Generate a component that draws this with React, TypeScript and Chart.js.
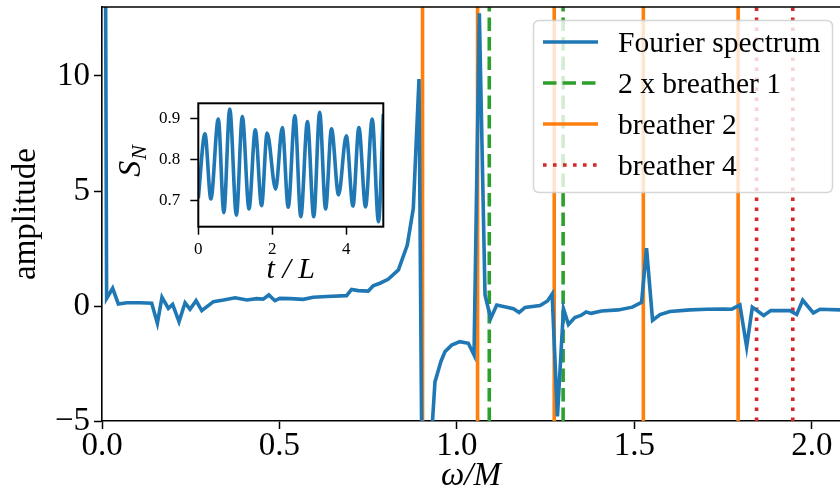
import React, { useEffect, useRef } from "react";
import { Chart, registerables } from "chart.js";
Chart.register(...registerables);

// ---- main spectrum data ----
const omega = [0.000, 0.013, 0.030, 0.046, 0.070, 0.107, 0.140, 0.156, 0.169, 0.187, 0.199, 0.217, 0.234, 0.248, 0.265, 0.281, 0.314, 0.342, 0.375, 0.408, 0.436, 0.454, 0.470, 0.487, 0.501, 0.530, 0.567, 0.595, 0.633, 0.689, 0.703, 0.722, 0.750, 0.764, 0.783, 0.806, 0.835, 0.860, 0.877, 0.893, 0.908, 0.925, 0.938, 0.955, 0.966, 0.985, 1.008, 1.032, 1.048, 1.063, 1.079, 1.095, 1.112, 1.159, 1.175, 1.192, 1.234, 1.255, 1.268, 1.283, 1.300, 1.314, 1.332, 1.349, 1.364, 1.378, 1.407, 1.454, 1.494, 1.520, 1.534, 1.551, 1.572, 1.600, 1.656, 1.703, 1.750, 1.774, 1.797, 1.816, 1.832, 1.864, 1.884, 1.938, 1.957, 1.974, 2.004, 2.023, 2.079, 2.100];
const amplitude = [60, 0.33, 0.77, 0.09, 0.14, 0.14, 0.12, -0.75, 0.38, -0.10, 0.07, -0.68, 0.14, -0.14, 0.23, -0.20, 0.19, 0.26, 0.36, 0.26, 0.32, 0.30, 0.48, 0.23, 0.33, 0.32, 0.29, 0.38, 0.41, 0.45, 0.72, 0.67, 0.65, 0.88, 0.99, 1.16, 1.57, 2.65, 4.25, 9.87, -21, -6.5, -3.3, -2.4, -1.99, -1.70, -1.55, -1.62, -2.13, 12.73, 0.48, -0.54, 0.04, -0.12, -0.28, -0.06, 0.02, 0.22, 0.52, -4.8, -0.12, -0.8, -0.5, -0.41, -0.26, -0.32, -0.22, -0.17, -0.05, 0.16, 2.51, -0.62, -0.37, -0.24, -0.17, -0.14, -0.13, -0.14, 0.04, -1.77, -0.05, -0.41, -0.2, -0.2, -0.37, 0.25, -0.30, -0.14, -0.17, -0.17];

const breather1x2 = [1.091, 1.299];
const breather2 = [0.903, 1.058, 1.274, 1.525, 1.792];
const breather4 = [1.844, 1.946];

const legendLabels = ["Fourier spectrum", "2 x breather 1", "breather 2", "breather 4"];

const xMin = 0;
const xMax = 2.079;
const yMin = -5;
const yMax = 13;
const xTicks = [0, 0.5, 1, 1.5, 2];
const yTicks = [-5, 0, 5, 10];

// ---- inset data S_N(t) ----
const insetT = [0, 0.18, 0.34, 0.54, 0.69, 0.85, 1.03, 1.19, 1.37, 1.54, 1.71, 1.86, 2.09, 2.27, 2.43, 2.61, 2.77, 2.95, 3.12, 3.28, 3.44, 3.60, 3.79, 4.00, 4.18, 4.34, 4.52, 4.70, 4.87, 5.0];
const insetS = [0.706, 0.862, 0.704, 0.898, 0.671, 0.922, 0.665, 0.904, 0.680, 0.872, 0.688, 0.864, 0.728, 0.877, 0.684, 0.906, 0.661, 0.892, 0.661, 0.914, 0.680, 0.874, 0.714, 0.857, 0.687, 0.877, 0.685, 0.898, 0.649, 0.910];
const insetXTicks = [0, 2, 4];
const insetYTicks = [0.7, 0.8, 0.9];
const insetXMin = 0;
const insetXMax = 5;
const insetYMin = 0.637;
const insetYMax = 0.936;

const FAMILY = "'Liberation Serif', 'DejaVu Serif', serif";
const BLUE = "#1f77b4";
const ORANGE = "#ff7f0e";
const GREEN = "#2ca02c";
const RED = "#d62728";
const LW = 3.6;
const GREEN_DASH = [13.5, 6];
const RED_DASH = [3.6, 6.4];

function vlines(values: number[]) {
  const out: any[] = [];
  values.forEach((v) => {
    out.push({ x: v, y: yMin });
    out.push({ x: v, y: yMax });
    out.push({ x: v, y: null });
  });
  return out;
}

function fmtY(v: number) {
  return v < 0 ? "\u2212" + Math.abs(v) : String(v);
}

function fixX(h: number) {
  return (s: any) => {
    s.height = h;
    s.paddingLeft = 0;
    s.paddingRight = 0;
    s.paddingTop = 0;
    s.paddingBottom = 0;
  };
}
function fixY(w: number) {
  return (s: any) => {
    s.width = w;
    s.paddingLeft = 0;
    s.paddingRight = 0;
    s.paddingTop = 0;
    s.paddingBottom = 0;
  };
}

export default function App() {
  const mainRef = useRef<HTMLCanvasElement>(null);
  const insetRef = useRef<HTMLCanvasElement>(null);

  useEffect(() => {
    const legendItems = [
      { label: legendLabels[0], color: BLUE, dash: [] as number[] },
      { label: legendLabels[1], color: GREEN, dash: GREEN_DASH },
      { label: legendLabels[2], color: ORANGE, dash: [] as number[] },
      { label: legendLabels[3], color: RED, dash: RED_DASH },
    ];

    const mainPlugin = {
      id: "mainDeco",
      afterDraw(chart: any) {
        const { ctx, chartArea } = chart;
        ctx.save();
        // top spine
        ctx.strokeStyle = "#000";
        ctx.lineWidth = 1.6;
        ctx.beginPath();
        ctx.moveTo(chartArea.left - 0.8, chartArea.top);
        ctx.lineTo(chartArea.right + 2, chartArea.top);
        ctx.stroke();
        // legend
        const bx = 533.5, by = 20.5, bw = 299, bh = 172, r = 6;
        ctx.beginPath();
        ctx.moveTo(bx + r, by);
        ctx.lineTo(bx + bw - r, by);
        ctx.quadraticCurveTo(bx + bw, by, bx + bw, by + r);
        ctx.lineTo(bx + bw, by + bh - r);
        ctx.quadraticCurveTo(bx + bw, by + bh, bx + bw - r, by + bh);
        ctx.lineTo(bx + r, by + bh);
        ctx.quadraticCurveTo(bx, by + bh, bx, by + bh - r);
        ctx.lineTo(bx, by + r);
        ctx.quadraticCurveTo(bx, by, bx + r, by);
        ctx.closePath();
        ctx.fillStyle = "rgba(255,255,255,0.8)";
        ctx.fill();
        ctx.strokeStyle = "rgba(204,204,204,0.8)";
        ctx.lineWidth = 1.5;
        ctx.stroke();
        legendItems.forEach((it, i) => {
          const y = 42 + i * 41;
          ctx.beginPath();
          ctx.setLineDash(it.dash);
          ctx.lineDashOffset = 0;
          ctx.strokeStyle = it.color;
          ctx.lineWidth = LW;
          ctx.lineCap = "butt";
          ctx.moveTo(543, y);
          ctx.lineTo(598, y);
          ctx.stroke();
          ctx.setLineDash([]);
          ctx.fillStyle = "#000";
          ctx.font = `29.5px ${FAMILY}`;
          ctx.textBaseline = "middle";
          ctx.textAlign = "left";
          ctx.fillText(it.label, 618, y + 2);
        });
        ctx.restore();
      },
    };

    const mainChart = new Chart(mainRef.current as HTMLCanvasElement, {
      type: "line",
      data: {
        datasets: [
          {
            label: legendLabels[0],
            data: omega.map((x, i) => ({ x, y: amplitude[i] })),
            borderColor: BLUE,
            borderWidth: LW,
            pointRadius: 0,
            tension: 0,
            order: 0,
          },
          {
            label: legendLabels[1],
            data: vlines(breather1x2),
            borderColor: GREEN,
            borderWidth: LW,
            borderDash: GREEN_DASH,
            pointRadius: 0,
            spanGaps: false,
            order: 1,
          },
          {
            label: legendLabels[2],
            data: vlines(breather2),
            borderColor: ORANGE,
            borderWidth: LW,
            pointRadius: 0,
            spanGaps: false,
            order: 2,
          },
          {
            label: legendLabels[3],
            data: vlines(breather4),
            borderColor: RED,
            borderWidth: LW,
            borderDash: RED_DASH,
            pointRadius: 0,
            spanGaps: false,
            order: 3,
          },
        ] as any,
      },
      options: {
        animation: false,
        responsive: false,
        devicePixelRatio: 1,
        events: [],
        layout: { padding: { top: 7, left: 0, right: 0, bottom: 0 } },
        plugins: { legend: { display: false }, tooltip: { enabled: false } },
        scales: {
          x: {
            type: "linear",
            min: xMin,
            max: xMax,
            afterBuildTicks: (s: any) => {
              s.ticks = xTicks.map((v) => ({ value: v }));
            },
            afterFit: fixX(76),
            grid: { drawOnChartArea: false, drawTicks: true, tickLength: 8, tickWidth: 1.5, tickColor: "#000" },
            border: { display: true, color: "#000", width: 1.6 },
            ticks: {
              color: "#000",
              font: { family: FAMILY, size: 33, lineHeight: 1 },
              padding: 1,
              maxRotation: 0,
              autoSkip: false,
              callback: (v: any) => Number(v).toFixed(1),
            },
            title: {
              display: true,
              text: "ω/M",
              color: "#000",
              font: { family: FAMILY, size: 33, style: "italic", lineHeight: 1 },
              padding: { top: 0, bottom: 4 },
            },
          },
          y: {
            type: "linear",
            min: yMin,
            max: yMax,
            afterBuildTicks: (s: any) => {
              s.ticks = yTicks.map((v) => ({ value: v }));
            },
            afterFit: fixY(102),
            grid: { drawOnChartArea: false, drawTicks: true, tickLength: 8, tickWidth: 1.5, tickColor: "#000" },
            border: { display: true, color: "#000", width: 1.6 },
            ticks: {
              color: "#000",
              font: { family: FAMILY, size: 33, lineHeight: 1 },
              padding: 4,
              autoSkip: false,
              callback: (v: any) => fmtY(Number(v)),
            },
            title: {
              display: true,
              text: "amplitude",
              color: "#000",
              font: { family: FAMILY, size: 33, lineHeight: 1 },
              padding: { top: 10, bottom: 0 },
            },
          },
        },
      } as any,
      plugins: [mainPlugin],
    });

    const insetPlugin = {
      id: "insetDeco",
      beforeDraw(chart: any) {
        const { ctx, chartArea } = chart;
        ctx.save();
        ctx.fillStyle = "#fff";
        ctx.fillRect(chartArea.left, chartArea.top, chartArea.right - chartArea.left, chartArea.bottom - chartArea.top);
        ctx.restore();
      },
      afterDraw(chart: any) {
        const { ctx, chartArea } = chart;
        ctx.save();
        ctx.strokeStyle = "#000";
        ctx.lineWidth = 2;
        ctx.strokeRect(chartArea.left, chartArea.top, chartArea.right - chartArea.left, chartArea.bottom - chartArea.top);
        // y label S_N (rotated)
        ctx.translate(40, 71.5);
        ctx.rotate(-Math.PI / 2);
        ctx.fillStyle = "#000";
        ctx.textBaseline = "alphabetic";
        ctx.textAlign = "left";
        ctx.font = `italic 32px ${FAMILY}`;
        const sW = ctx.measureText("S").width;
        ctx.font = `italic 22px ${FAMILY}`;
        const nW = ctx.measureText("N").width;
        const x0 = -(sW + nW) / 2;
        ctx.font = `italic 32px ${FAMILY}`;
        ctx.fillText("S", x0, 0);
        ctx.font = `italic 22px ${FAMILY}`;
        ctx.fillText("N", x0 + sW + 1, 6);
        ctx.restore();
      },
    };

    const insetChart = new Chart(insetRef.current as HTMLCanvasElement, {
      type: "line",
      data: {
        datasets: [
          {
            data: insetT.map((x, i) => ({ x, y: insetS[i] })),
            borderColor: BLUE,
            borderWidth: LW,
            pointRadius: 0,
            cubicInterpolationMode: "monotone",
          },
        ] as any,
      },
      options: {
        animation: false,
        responsive: false,
        devicePixelRatio: 1,
        events: [],
        layout: { padding: { top: 13.3, left: 0, right: 16.7, bottom: 0 } },
        plugins: { legend: { display: false }, tooltip: { enabled: false } },
        scales: {
          x: {
            type: "linear",
            min: insetXMin,
            max: insetXMax,
            afterBuildTicks: (s: any) => {
              s.ticks = insetXTicks.map((v) => ({ value: v }));
            },
            afterFit: fixX(63.3),
            grid: { drawOnChartArea: false, drawTicks: true, tickLength: 8, tickWidth: 1.5, tickColor: "#000" },
            border: { display: false },
            ticks: {
              color: "#000",
              font: { family: FAMILY, size: 17, lineHeight: 1 },
              padding: 6,
              maxRotation: 0,
              autoSkip: false,
              callback: (v: any) => String(v),
            },
            title: {
              display: true,
              text: "t / L",
              color: "#000",
              font: { family: FAMILY, size: 30, style: "italic", lineHeight: 1 },
              padding: { top: 0, bottom: 5 },
            },
          },
          y: {
            type: "linear",
            min: insetYMin,
            max: insetYMax,
            afterBuildTicks: (s: any) => {
              s.ticks = insetYTicks.map((v) => ({ value: v }));
            },
            afterFit: fixY(98.3),
            grid: { drawOnChartArea: false, drawTicks: true, tickLength: 8, tickWidth: 1.5, tickColor: "#000" },
            border: { display: false },
            ticks: {
              color: "#000",
              font: { family: FAMILY, size: 17, lineHeight: 1 },
              padding: 10,
              autoSkip: false,
              callback: (v: any) => Number(v).toFixed(1),
            },
          },
        },
      } as any,
      plugins: [insetPlugin],
    });

    return () => {
      mainChart.destroy();
      insetChart.destroy();
    };
  }, []);

  return (
    <div style={{ position: "fixed", left: 0, top: 0, width: 840, height: 497, background: "#fff", overflow: "hidden" }}>
      <canvas ref={mainRef} width={840} height={497} style={{ position: "absolute", left: 0, top: 0, width: 840, height: 497 }} />
      <canvas ref={insetRef} width={300} height={200} style={{ position: "absolute", left: 100, top: 90, width: 300, height: 200 }} />
    </div>
  );
}
